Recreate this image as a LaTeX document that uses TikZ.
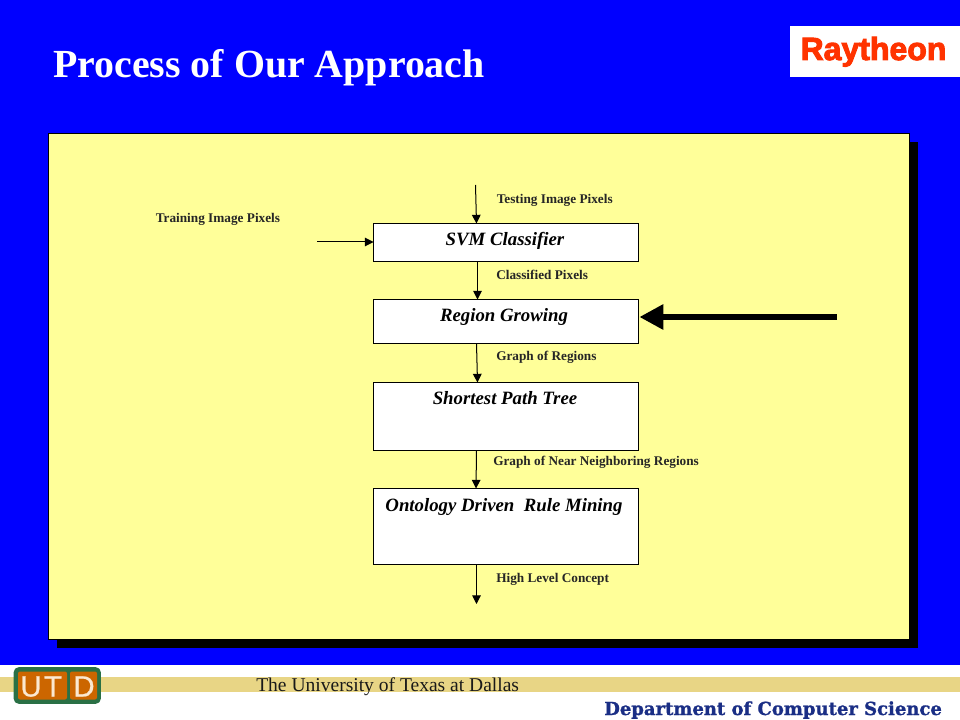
\documentclass[tikz,border=0pt]{standalone}
\usepackage{fontspec}
\setmainfont{Liberation Serif}
\newfontfamily\heavysans{Liberation Sans}
\newfontfamily\deptfont[FakeBold=1.2]{DejaVu Serif}
\usetikzlibrary{arrows.meta}
\definecolor{slideblue}{HTML}{0000FF}
\definecolor{panelyellow}{HTML}{FFFF99}
\definecolor{bandtan}{HTML}{E8D585}
\definecolor{utdgreen}{HTML}{2A7045}
\definecolor{utdorange}{HTML}{CC6600}
\definecolor{utdcream}{HTML}{FBE8D0}
\definecolor{deptblue}{HTML}{1A2E85}
\definecolor{rayred}{HTML}{FF3300}
\tikzset{
  x=0.75pt,y=-0.75pt,
  flowbox/.style={draw=black,line width=0.75pt,fill=white,inner sep=0pt,outer sep=0pt,anchor=north west},
  boxtitle/.style={font=\fontsize{14.1pt}{16pt}\selectfont\bfseries\itshape,anchor=base,inner sep=0pt},
  flowlabel/.style={font=\fontsize{9.95pt}{12pt}\selectfont\bfseries,anchor=base west,inner sep=0pt,text=black!85},
  flowarrow/.style={draw=black,line width=0.75pt,-{Triangle[length=6.5pt,width=6.5pt]}},
  fatarrow/.style={draw=black,line width=5pt,-{Triangle[length=18pt,width=18pt,sep=0pt]},shorten >=1pt},
  utdletter/.style={font=\heavysans\fontsize{22pt}{22pt}\selectfont,text=utdcream,anchor=base,inner sep=0pt}
}
\begin{document}
\begin{tikzpicture}
\useasboundingbox (0,0) rectangle (960,720);
% backgrounds
\fill[slideblue] (0,0) rectangle (960,665);
\fill[white] (0,665) rectangle (960,720);
\fill[bandtan] (0,677) rectangle (960,692);
% panel
\fill[black] (57,142) rectangle (918,648);
\draw[black,line width=0.9pt,fill=panelyellow] (48.5,133.5) rectangle (909.5,639.5);
% title
\node[anchor=base west,inner sep=0pt,text=white,font=\fontsize{29.9pt}{32pt}\selectfont\bfseries] (title) at (53,77.5) {Process of Our Approach};
% Raytheon logo
\fill[white] (790,26) rectangle (960,77);
\node[anchor=base,inner sep=0pt,text=rayred,font=\heavysans\fontsize{24pt}{25pt}\selectfont\bfseries] (raytheon) at (873.5,60) {\addfontfeature{FakeBold=3}Raytheon};
% boxes
\node[flowbox,minimum width=198.4pt,minimum height=28.2pt] (svm) at (373.5,223.5) {};
\node[flowbox,minimum width=198.4pt,minimum height=33pt] (region) at (373.5,299.5) {};
\node[flowbox,minimum width=198.4pt,minimum height=51.2pt] (spt) at (373.5,382.5) {};
\node[flowbox,minimum width=198.4pt,minimum height=57.3pt] (onto) at (373.5,488.5) {};
% box titles
\node[boxtitle] (svmt) at (505,246) {SVM Classifier};
\node[boxtitle] (regiont) at (504,321) {Region Growing};
\node[boxtitle] (sptt) at (505,404) {Shortest Path Tree};
\node[boxtitle] (ontot) at (504,511) {Ontology Driven\ \ Rule Mining};
% labels
\node[flowlabel] (l1) at (496.5,204) {Testing Image Pixels};
\node[flowlabel] (l2) at (155.5,223) {Training Image Pixels};
\node[flowlabel] (l3) at (496,280) {Classified Pixels};
\node[flowlabel] (l4) at (496,360) {Graph of Regions};
\node[flowlabel] (l5) at (493,465.5) {Graph of Near Neighboring Regions};
\node[flowlabel] (l6) at (496,582.5) {High Level Concept};
% free ends
\coordinate (testin) at (475.5,185);
\coordinate (trainin) at (317,242);
\coordinate (out) at (476.5,604);
\coordinate (fatin) at (837,317);
% connectors
\draw[flowarrow] (testin) -- (476.5,223 |- svm.north);
\draw[flowarrow] (trainin) -- (trainin -| svm.west);
\draw[flowarrow] (477.5,262 |- svm.south) -- (477.5,299 |- region.north);
\draw[flowarrow] (476.5,344 |- region.south) -- (477.5,382 |- spt.north);
\draw[flowarrow] (476.5,451 |- spt.south) -- (476,488 |- onto.north);
\draw[flowarrow] (476.5,565 |- onto.south) -- (out);
\draw[fatarrow] (fatin) -- (fatin -| region.east);
% UTD logo
\draw[utdgreen,line width=2pt,fill=utdgreen,rounded corners=3pt] (15,668.5) rectangle (99.5,702.5);
\fill[utdorange,rounded corners=1.5pt] (18,671.5) rectangle (67,699.5);
\fill[utdorange,rounded corners=1.5pt] (70,671.5) rectangle (97,699.5);
\node[utdletter] (u) at (31,696.5) {\addfontfeature{FakeBold=0.8}U};
\node[utdletter] (t) at (53,696.5) {\addfontfeature{FakeBold=0.8}T};
\node[utdletter] (d) at (84,696.5) {\addfontfeature{FakeBold=0.8}D};
% footer text
\node[anchor=base west,inner sep=0pt,text=black!90,font=\fontsize{14.65pt}{16pt}\selectfont] (utd) at (256,691) {The University of Texas at Dallas};
\node[anchor=base west,inner sep=0pt,text=deptblue,font=\deptfont\fontsize{13.5pt}{16pt}\selectfont\bfseries] (dept) at (604,715) {Department of Computer Science};
\end{tikzpicture}
\end{document}
